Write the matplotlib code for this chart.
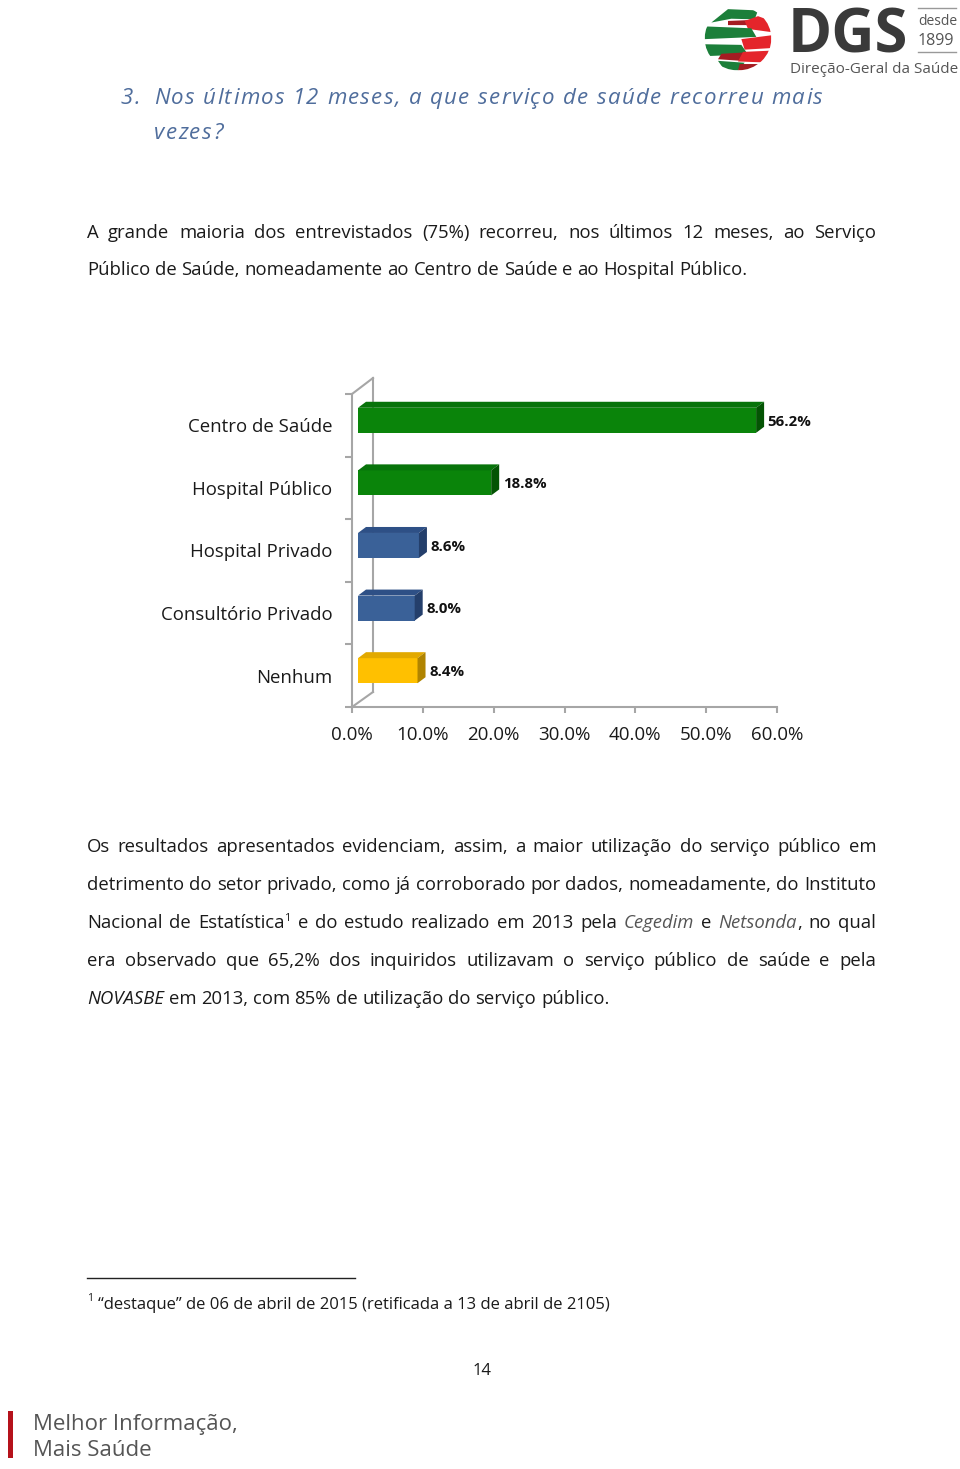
import numpy as np
import matplotlib
matplotlib.use("Agg")
import matplotlib.pyplot as plt
from matplotlib.patches import Polygon, Circle, Rectangle

plt.rcParams['font.family'] = ['Open Sans', 'DejaVu Sans']

# chart data
categories = ['Centro de Saúde', 'Hospital Público', 'Hospital Privado',
              'Consultório Privado', 'Nenhum']
values = [56.2, 18.8, 8.6, 8.0, 8.4]
front_cols = ['#0A840A', '#0A840A', '#3A6198', '#3A6198', '#FFC000']
top_cols = ['#07730A', '#07730A', '#2E5086', '#2E5086', '#E2A900']
side_cols = ['#045404', '#045404', '#243F6B', '#243F6B', '#B08400']
xticks = [0, 10, 20, 30, 40, 50, 60]

TXT = '#1a1a1a'
BODY = 13.35

fig = plt.figure(figsize=(9.6, 14.69), dpi=100)
pg = fig.add_axes([0, 0, 1, 1])
pg.set_xlim(0, 960)
pg.set_ylim(1469, 0)
pg.axis('off')
r = fig.canvas.get_renderer()


def width(t):
    return t.get_window_extent(r).width


def space_w(size, style='normal'):
    a = pg.text(0, 0, 'x x', fontsize=size, style=style)
    b = pg.text(0, 0, 'xx', fontsize=size, style=style)
    w = width(a) - width(b)
    a.remove(); b.remove()
    return w


def parse(word):
    # *x* italic grey, _x_ italic black, ^1 superscript
    segs = []
    buf, mode = '', 'n'
    i = 0
    while i < len(word):
        ch = word[i]
        if ch == '*' or ch == '_':
            if buf:
                segs.append((buf, mode))
            buf = ''
            m = 'g' if ch == '*' else 'i'
            mode = 'n' if mode == m else m
        elif ch == '^':
            if buf:
                segs.append((buf, mode))
            buf = ''
            segs.append((word[i + 1], 's'))
            i += 1
        else:
            buf += ch
        i += 1
    if buf:
        segs.append((buf, mode))
    return segs


def line(y, s, x0=87, x1=876, justify=True, size=BODY):
    words = []
    for w in s.split(' '):
        arts = []
        for txt, m in parse(w):
            kw = dict(fontsize=size, color=TXT, va='baseline', ha='left')
            dy = 0
            if m == 'g':
                kw.update(style='italic', color='#555555')
            elif m == 'i':
                kw.update(style='italic')
            elif m == 's':
                kw.update(fontsize=size * 0.6)
                dy = -7
            t = pg.text(0, y + dy, txt, **kw)
            arts.append(t)
        words.append(arts)
    ws = [sum(width(a) for a in arts) for arts in words]
    if justify:
        gap = (x1 - x0 - sum(ws)) / (len(words) - 1)
    else:
        gap = space_w(size)
    x = x0
    for arts, w in zip(words, ws):
        xx = x
        for a in arts:
            a.set_x(xx)
            xx += width(a)
        x += w + gap


def tracked(x, y, s, size, color, track, style='italic'):
    for ch in s:
        t = pg.text(x, y, ch, fontsize=size, color=color, style=style,
                    va='baseline', ha='left')
        w = width(t) if ch != ' ' else space_w(size, style)
        x += w + track


# title
TCOL = '#4F6D9C'
TS = 16
ttl = 'Nos últimos 12 meses, a que serviço de saúde recorreu mais'
nat = 0
for ch in ttl:
    if ch == ' ':
        nat += space_w(TS, 'italic')
    else:
        t = pg.text(0, 0, ch, fontsize=TS, style='italic')
        nat += width(t)
        t.remove()
trk = (823 - 154 - nat) / (len(ttl) - 1)
tracked(121, 104, '3.', TS, TCOL, trk)
tracked(154, 104, ttl, TS, TCOL, trk)
tracked(154, 139, 'vezes?', TS, TCOL, trk)

# paragraph 1
line(238, 'A grande maioria dos entrevistados (75%) recorreu, nos últimos 12 meses, ao Serviço')
line(275, 'Público de Saúde, nomeadamente ao Centro de Saúde e ao Hospital Público.', justify=False)

# paragraph 2
line(852, 'Os resultados apresentados evidenciam, assim, a maior utilização do serviço público em')
line(890, 'detrimento do setor privado, como já corroborado por dados, nomeadamente, do Instituto')
line(928, 'Nacional de Estatística^1 e do estudo realizado em 2013 pela *Cegedim* e *Netsonda*, no qual')
line(966, 'era observado que 65,2% dos inquiridos utilizavam o serviço público de saúde e pela')
line(1004, '_NOVASBE_ em 2013, com 85% de utilização do serviço público.', justify=False)

# footnote
pg.plot([87, 355], [1278, 1278], color='#222222', lw=1)
pg.text(87, 1301, '1', fontsize=7.5, color=TXT, va='baseline')
pg.text(98, 1309, '“destaque” de 06 de abril de 2015 (retificada a 13 de abril de 2105)',
        fontsize=12, color=TXT, va='baseline')
pg.text(482, 1375, '14', fontsize=12, color=TXT, va='baseline', ha='center')

# footer
pg.add_patch(Rectangle((8, 1411), 5, 47, color='#B5121B', lw=0))
pg.text(33, 1430, 'Melhor Informação,', fontsize=16, color='#555555', va='baseline')
pg.text(33, 1456, 'Mais Saúde', fontsize=16, color='#555555', va='baseline')

# logo text
pg.text(788, 52, 'DGS', fontsize=43, fontweight='bold', color='#3A3A3A', va='baseline')
pg.text(918, 25, 'desde', fontsize=10, color='#555555', va='baseline')
pg.text(918, 45, '1899', fontsize=11.5, color='#555555', va='baseline')
pg.plot([918, 956], [8, 8], color='#999999', lw=1)
pg.plot([918, 956], [52, 52], color='#999999', lw=1)
pg.text(790, 73, 'Direção-Geral da Saúde', fontsize=11, color='#555555', va='baseline')

# logo sphere
lg = fig.add_axes([703 / 960, 1 - 72 / 1469, 70 / 960, 67 / 1469])
lg.set_xlim(-1.05, 1.05)
lg.set_ylim(-1.05, 1.05)
lg.axis('off')
clip = Circle((0, 0), 1.0, transform=lg.transData)
ribbons = [
    ('#1C7F3A', [(-0.8, 0.5), (-0.3, 0.92), (0.6, 0.88), (0.5, 0.6), (-0.2, 0.62)]),
    ('#A51C22', [(-0.3, 0.55), (0.4, 0.58), (0.3, 0.42), (-0.3, 0.42)]),
    ('#E4252B', [(0.2, 0.55), (0.6, 0.7), (1.0, 0.55), (1.0, 0.2), (0.3, 0.3)]),
    ('#1C7F3A', [(-1.0, 0.38), (0.4, 0.32), (0.55, 0.05), (-1.0, -0.02)]),
    ('#E4252B', [(0.1, -0.02), (1.0, 0.1), (1.0, -0.3), (0.2, -0.35)]),
    ('#1C7F3A', [(-1.0, -0.18), (0.1, -0.2), (0.3, -0.5), (-0.9, -0.55)]),
    ('#A51C22', [(-0.5, -0.48), (0.3, -0.43), (0.1, -0.7), (-0.6, -0.65)]),
    ('#E4252B', [(0.15, -0.42), (1.0, -0.38), (0.8, -0.75), (0.0, -0.72)]),
    ('#1C7F3A', [(-0.6, -0.7), (0.2, -0.76), (0.0, -1.0), (-0.4, -1.0)]),
    ('#A51C22', [(0.05, -0.8), (0.7, -0.8), (0.4, -1.0), (0.0, -1.0)]),
]
for c, pts in ribbons:
    p = Polygon(pts, closed=True, color=c, lw=0)
    lg.add_patch(p)
    p.set_clip_path(clip)

# chart
ax = fig.add_axes([352 / 960, 1 - 707 / 1469, 425 / 960, 313 / 1469])
ax.set_xlim(0, 60)
ax.set_ylim(4.5, -0.5)
ax.set_facecolor('none')

x0 = 0.85            # front face starts a little off the front floor
dx = 60 * 8 / 425    # depth of the bars
dy = 6 / 62.6
h = 0.40
yc = np.arange(len(values)) - 0.08
ax.barh(yc, values, left=x0, height=h, color=front_cols, lw=0, zorder=3)
for i, v in enumerate(values):
    t0 = yc[i] - h / 2
    b0 = yc[i] + h / 2
    ax.add_patch(Polygon([(x0, t0), (x0 + dx, t0 - dy), (x0 + v + dx, t0 - dy), (x0 + v, t0)],
                         color=top_cols[i], lw=0, zorder=3))
    ax.add_patch(Polygon([(x0 + v, t0), (x0 + v + dx, t0 - dy), (x0 + v + dx, b0 - dy), (x0 + v, b0)],
                         color=side_cols[i], lw=0, zorder=3))
    ax.text(x0 + v + dx + 0.5, yc[i] + 0.02, f'{v:.1f}%', fontsize=10.8, fontweight='bold',
            color='#111111', va='center', ha='left')

gray = '#A6A6A6'
wx = 60 * 21 / 425
ax.plot([0, wx], [-0.5, -0.5 - 16 / 62.6], color=gray, lw=1.5, clip_on=False)
ax.plot([wx, wx], [-0.5 - 16 / 62.6, 4.5 - 15 / 62.6], color=gray, lw=1.5, clip_on=False)
ax.plot([0, wx], [4.5, 4.5 - 15 / 62.6], color=gray, lw=1.5, clip_on=False)

for s in ['top', 'right']:
    ax.spines[s].set_visible(False)
for s in ['left', 'bottom']:
    ax.spines[s].set_color(gray)
    ax.spines[s].set_linewidth(1.5)

ax.set_xticks(xticks)
ax.set_xticklabels([f'{v:.1f}%' for v in xticks], fontsize=13.5, color=TXT)
ax.tick_params(axis='x', length=4, color=gray, width=1.5, pad=10)
ax.set_yticks(range(len(categories)))
ax.set_yticklabels(categories, fontsize=13.4, color=TXT)
ax.set_yticks(np.arange(-0.5, 5, 1), minor=True)
ax.tick_params(axis='y', which='major', length=0, pad=14)
ax.tick_params(axis='y', which='minor', length=5, color=gray, width=1.5)

fig.savefig('out.png', dpi=100)
